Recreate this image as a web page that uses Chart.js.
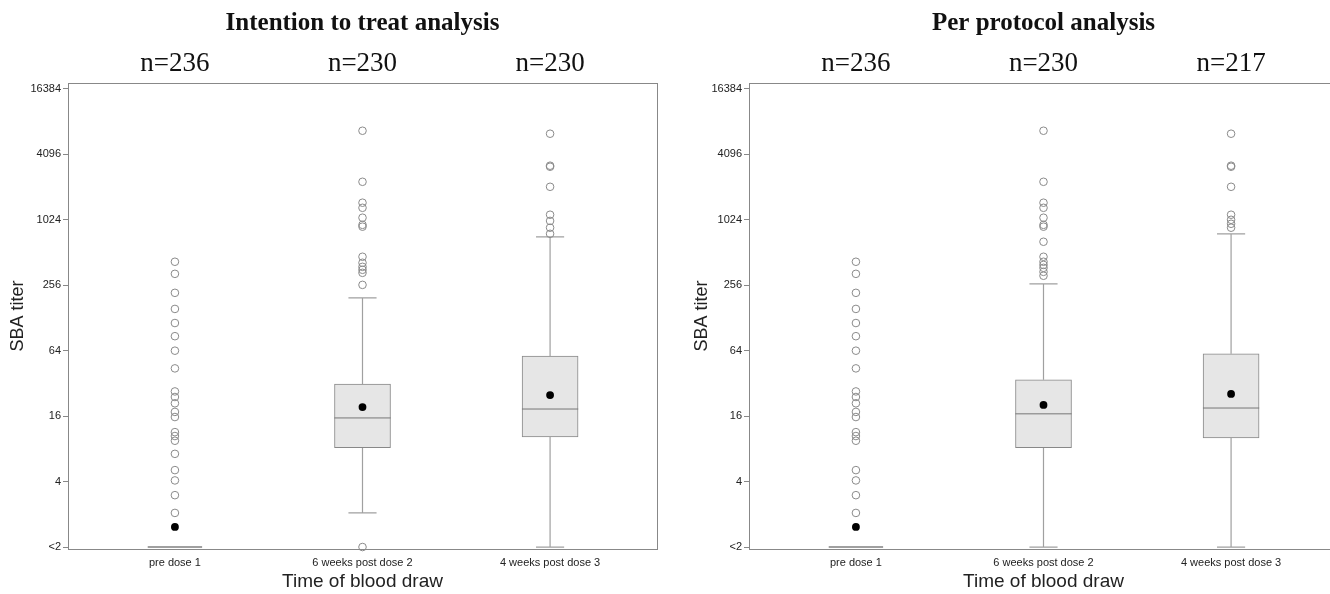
<!DOCTYPE html>
<html>
<head>
<title>SBA titer box plots</title>
<script src="https://cdn.jsdelivr.net/npm/chart.js"></script>
<style>
  body { margin: 0; background: #fff; overflow: hidden; width: 1330px; height: 594px; position: relative; }
  canvas { position: absolute; top: 0; }
</style>
</head>
<body>
<canvas id="ittChart" width="665" height="594" style="left:0px"></canvas>
<canvas id="ppChart" width="680" height="594" style="left:665px"></canvas>
<script>
// x groups and y ticks (titers, <2 plotted as 1)
var groups = ['pre dose 1', '6 weeks post dose 2', '4 weeks post dose 3'];
var yTickValues = [1, 4, 16, 64, 256, 1024, 4096, 16384];
var yTickLabels = ['<2', '4', '16', '64', '256', '1024', '4096', '16384'];

// intention to treat analysis
var ittN = ['n=236', 'n=230', 'n=230'];
var ittMin = [1, 2.06, 1];
var ittQ1 = [1, 8.2, 10.3];
var ittMedian = [1, 15.4, 18.6];
var ittQ3 = [1, 31.6, 57];
var ittMax = [1, 196, 714];
var ittMean = [1.53, 19.4, 25];
var ittOutPre = [421, 326, 218, 155, 115, 87, 64, 44, 27, 24, 21, 17.5, 15.7, 11.4, 10.5, 9.5, 7.2, 5.1, 4.1, 3.0, 2.06];
var ittOut6wk = [6750, 2290, 1470, 1320, 1070, 920, 885, 468, 412, 378, 355, 333, 258, 1];
var ittOut4wk = [6340, 3220, 3150, 2060, 1140, 1000, 866, 761];

// per protocol analysis
var ppN = ['n=236', 'n=230', 'n=217'];
var ppMin = [1, 1, 1];
var ppQ1 = [1, 8.2, 10.1];
var ppMedian = [1, 16.8, 19];
var ppQ3 = [1, 34.5, 60];
var ppMax = [1, 264, 761];
var ppMean = [1.53, 20.3, 25.6];
var ppOutPre = [421, 326, 218, 155, 115, 87, 64, 44, 27, 24, 21, 17.5, 15.7, 11.4, 10.5, 9.5, 5.1, 4.1, 3.0, 2.06];
var ppOut6wk = [6750, 2290, 1470, 1320, 1070, 920, 885, 643, 468, 421, 394, 370, 340, 313];
var ppOut4wk = [6340, 3220, 3150, 2060, 1140, 1024, 941, 866];

var sans = 'Liberation Sans, Arial, sans-serif';
var serif = 'Liberation Serif, Times New Roman, serif';

function lg(v) { return Math.log2(v); }

function groupTicks(sc) {
  sc.ticks = groups.map(function (g, i) { return {value: i + 1}; });
}

function makeChart(id, title, nLabels, s, outl, lay) {
  var whisk = [], meds = [], flats = [], boxes = [], means = [], outs = [];
  for (var i = 0; i < groups.length; i++) {
    var x = i + 1;
    means.push({x: x, y: lg(s.mean[i])});
    outl[i].forEach(function (v) { outs.push({x: x, y: lg(v)}); });
    if (s.q3[i] == s.q1[i]) {
      // collapsed box: just a flat line
      flats.push({x: x - 0.145, y: lg(s.q1[i])}, {x: x + 0.145, y: lg(s.q1[i])}, {x: x, y: null});
      continue;
    }
    boxes.push({x: x, y: [lg(s.q1[i]), lg(s.q3[i])]});
    meds.push({x: x - 0.15, y: lg(s.med[i])}, {x: x + 0.15, y: lg(s.med[i])}, {x: x, y: null});
    whisk.push({x: x, y: lg(s.min[i])}, {x: x, y: lg(s.q1[i])}, {x: x, y: null});
    whisk.push({x: x, y: lg(s.q3[i])}, {x: x, y: lg(s.max[i])}, {x: x, y: null});
    whisk.push({x: x - 0.075, y: lg(s.min[i])}, {x: x + 0.075, y: lg(s.min[i])}, {x: x, y: null});
    whisk.push({x: x - 0.075, y: lg(s.max[i])}, {x: x + 0.075, y: lg(s.max[i])}, {x: x, y: null});
  }

  var scales = {
    x: {
      type: 'linear', position: 'bottom', min: 0.43, max: 3.57, offset: false,
      afterBuildTicks: groupTicks,
      afterFit: function (sc) { sc.height = 45; },
      ticks: {
        autoSkip: false, maxRotation: 0, padding: 7, color: '#222',
        font: {family: sans, size: 11},
        callback: function (v, i) { return groups[i]; }
      },
      grid: {display: false, drawTicks: false},
      border: {color: '#888'},
      title: {
        display: true, text: 'Time of blood draw', color: '#222',
        font: {family: sans, size: 19}, padding: {top: 0, bottom: 1}
      }
    },
    xTop: {
      type: 'linear', position: 'top', min: 0.43, max: 3.57, offset: false,
      afterBuildTicks: groupTicks,
      afterFit: function (sc) { sc.height = 83; },
      ticks: {
        autoSkip: false, maxRotation: 0, padding: 3, color: '#111',
        font: {family: serif, size: 27},
        callback: function (v, i) { return nLabels[i]; }
      },
      grid: {display: false, drawTicks: false},
      border: {color: '#888'},
      title: {
        display: true, text: title, color: '#111',
        font: {family: serif, size: 25, weight: 'bold'}, padding: {top: 9, bottom: 0}
      }
    },
    y: {
      type: 'linear', position: 'left', min: -0.06, max: 14.18,
      afterBuildTicks: function (sc) {
        sc.ticks = yTickValues.map(function (v) { return {value: lg(v)}; });
      },
      afterFit: function (sc) { sc.width = lay.yWidth; },
      ticks: {
        padding: 2, color: '#222', font: {family: sans, size: 11},
        callback: function (v, i) { return yTickLabels[i]; }
      },
      grid: {display: true, drawOnChartArea: false, drawTicks: true, tickLength: 5, color: '#888'},
      border: {color: '#888'},
      title: {
        display: true, text: 'SBA titer', color: '#222',
        font: {family: sans, size: 18}, padding: {top: lay.yTitlePad, bottom: 0}
      }
    }
  };
  if (lay.rightWidth) {
    scales.yRight = {
      type: 'linear', position: 'right', min: -0.06, max: 14.18,
      afterFit: function (sc) { sc.width = lay.rightWidth; },
      ticks: {display: false},
      grid: {display: false, drawTicks: false},
      border: {color: '#888'}
    };
  }

  return new Chart(document.getElementById(id), {
    type: 'scatter',
    data: {
      datasets: [
        {data: means, pointRadius: 3.9, backgroundColor: '#000', borderColor: '#000', borderWidth: 0, clip: false},
        {data: outs, pointRadius: 3.8, backgroundColor: 'rgba(255,255,255,0)', borderColor: '#8a8a8a', borderWidth: 1, clip: false},
        {data: meds, showLine: true, pointRadius: 0, borderColor: '#777', borderWidth: 1},
        {data: flats, showLine: true, pointRadius: 0, borderColor: '#a0a0a0', borderWidth: 2, clip: false},
        {type: 'bar', data: boxes, barThickness: 56, backgroundColor: '#e6e6e6', borderColor: '#888', borderWidth: 1, borderSkipped: false},
        {data: whisk, showLine: true, pointRadius: 0, borderColor: '#a0a0a0', borderWidth: 1.2, clip: false}
      ]
    },
    options: {
      responsive: false,
      animation: false,
      layout: {padding: {left: 0, top: 0, bottom: 0, right: lay.padRight}},
      plugins: {legend: {display: false}, tooltip: {enabled: false}},
      scales: scales
    }
  });
}

makeChart('ittChart', 'Intention to treat analysis', ittN,
  {min: ittMin, q1: ittQ1, med: ittMedian, q3: ittQ3, max: ittMax, mean: ittMean},
  [ittOutPre, ittOut6wk, ittOut4wk],
  {yWidth: 68, yTitlePad: 7, rightWidth: 8, padRight: 0});

makeChart('ppChart', 'Per protocol analysis', ppN,
  {min: ppMin, q1: ppQ1, med: ppMedian, q3: ppQ3, max: ppMax, mean: ppMean},
  [ppOutPre, ppOut6wk, ppOut4wk],
  {yWidth: 84, yTitlePad: 26, rightWidth: 0, padRight: 7});
</script>
</body>
</html>
